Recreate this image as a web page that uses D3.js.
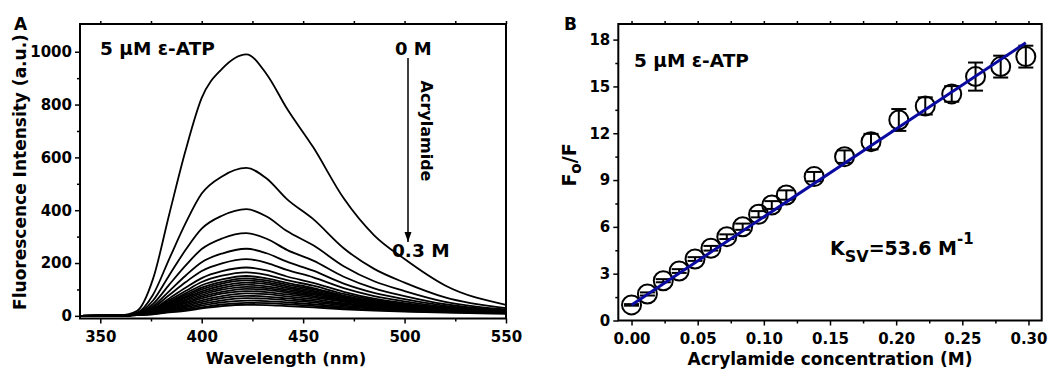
<!DOCTYPE html>
<html>
<head>
<meta charset="utf-8">
<script src="https://cdn.jsdelivr.net/npm/d3@7"></script>
<style>
  body { margin: 0; background: #fff; }
  svg text { font-family: 'Comic Sans MS', 'DejaVu Sans', sans-serif; font-weight: bold; fill: #000; }
  .tick line { stroke: #000; stroke-width: 1.5; }
</style>
</head>
<body>
<svg id="chart" width="1051" height="372"></svg>
<script>
// ---- panel A : emission spectra, one row per acrylamide addition ----
var wavelengths = [340, 360, 368, 376, 384, 392, 400, 410, 422, 432, 442, 455, 470, 485, 500, 520, 550];
var spectra = [
  [0, 2, 18, 140, 385, 625, 825, 935, 990, 915, 785, 638, 445, 305, 215, 115, 42],
  [0, 1, 11, 80, 216, 350, 463, 528, 560, 520, 442, 366, 256, 178, 126, 70, 29],
  [0, 1, 9, 58, 154, 249, 330, 379, 404, 376, 321, 267, 188, 131, 94, 53, 24],
  [0, 1, 8, 45, 118, 190, 253, 293, 313, 292, 250, 209, 148, 104, 75, 44, 21],
  [0, 1, 7, 36, 94, 152, 203, 236, 254, 237, 205, 171, 122, 87, 63, 38, 19],
  [0, 1, 6, 31, 79, 127, 170, 199, 215, 201, 174, 146, 105, 75, 55, 34, 18],
  [0, 1, 6, 26, 66, 106, 143, 169, 183, 172, 149, 125, 91, 65, 48, 30, 16],
  [0, 1, 5, 24, 59, 94, 128, 152, 165, 155, 135, 114, 83, 60, 45, 29, 16],
  [0, 1, 5, 22, 53, 85, 116, 138, 151, 142, 125, 105, 77, 56, 42, 27, 16],
  [0, 1, 5, 21, 50, 79, 107, 129, 142, 134, 118, 100, 73, 54, 41, 27, 16],
  [0, 1, 5, 20, 46, 73, 100, 122, 134, 127, 112, 95, 70, 52, 39, 27, 16],
  [0, 1, 5, 18, 43, 68, 93, 114, 126, 120, 106, 90, 67, 50, 38, 26, 16],
  [0, 1, 5, 17, 40, 62, 86, 106, 118, 112, 100, 85, 64, 48, 36, 25, 16],
  [0, 1, 5, 16, 36, 57, 79, 99, 110, 105, 94, 80, 60, 46, 35, 24, 16],
  [0, 1, 5, 15, 33, 52, 73, 91, 102, 98, 88, 75, 57, 43, 33, 24, 16],
  [0, 1, 5, 14, 30, 47, 66, 84, 94, 90, 81, 70, 53, 40, 31, 22, 15],
  [0, 1, 4, 13, 27, 42, 59, 75, 85, 82, 74, 63, 48, 37, 29, 21, 14],
  [0, 1, 4, 11, 24, 37, 52, 67, 76, 73, 66, 57, 44, 34, 26, 19, 13],
  [0, 1, 4, 10, 21, 32, 45, 59, 67, 65, 59, 51, 39, 30, 24, 18, 12],
  [0, 1, 3, 9, 18, 27, 39, 51, 58, 56, 51, 44, 34, 27, 21, 16, 11],
  [0, 0, 3, 7, 15, 23, 32, 43, 49, 48, 44, 38, 29, 23, 18, 14, 10],
  [0, 0, 3, 6, 13, 19, 28, 37, 42, 41, 37, 32, 25, 20, 16, 12, 8]
];
var xTicksA = [350, 400, 450, 500, 550];
var xMinorA = [375, 425, 475, 525];
var yTicksA = [0, 200, 400, 600, 800, 1000];
var yMinorA = [100, 300, 500, 700, 900];

// ---- panel B : Stern-Volmer plot ----
var acrylConc = [0, 0.012, 0.024, 0.036, 0.048, 0.06, 0.072, 0.084, 0.096, 0.106, 0.117,
                 0.138, 0.161, 0.181, 0.202, 0.222, 0.242, 0.26, 0.279, 0.298];
var f0f = [1.0, 1.7, 2.55, 3.17, 3.94, 4.63, 5.37, 6.01, 6.81, 7.4, 8.04,
           9.22, 10.5, 11.46, 12.85, 13.75, 14.52, 15.63, 16.27, 16.91];
var f0fErr = [0.05, 0.1, 0.1, 0.12, 0.12, 0.15, 0.15, 0.2, 0.2, 0.25, 0.3,
              0.3, 0.4, 0.5, 0.7, 0.55, 0.5, 0.9, 0.7, 0.7];
var fitConc = [0, 0.298];
var fitF0F = [1.0, 17.8];
var xTicksB = [0, 0.05, 0.10, 0.15, 0.20, 0.25, 0.30];
var xMinorB = [0.025, 0.075, 0.125, 0.175, 0.225, 0.275];
var yTicksB = [0, 3, 6, 9, 12, 15, 18];
var yMinorB = [1.5, 4.5, 7.5, 10.5, 13.5, 16.5];

var svg = d3.select("#chart");

function frame(x, y) {
  svg.append("rect")
    .attr("x", x.range()[0]).attr("y", y.range()[1])
    .attr("width", x.range()[1] - x.range()[0])
    .attr("height", y.range()[0] - y.range()[1])
    .attr("fill", "none").attr("stroke", "#000").attr("stroke-width", 2);
}

function axes(x, y, xt, xm, yt, ym, xfmt) {
  var bottom = y.range()[0], left = x.range()[0], top = y.range()[1];
  var gx = svg.append("g").attr("transform", "translate(0," + bottom + ")")
    .call(d3.axisBottom(x).tickValues(xt).tickSize(5).tickPadding(8).tickFormat(xfmt));
  svg.append("g").attr("transform", "translate(0," + bottom + ")")
    .call(d3.axisBottom(x).tickValues(xm).tickSize(3).tickFormat(""));
  svg.append("g").attr("transform", "translate(0," + top + ")")
    .call(d3.axisTop(x).tickValues(xt.concat(xm)).tickSize(3).tickFormat(""));
  var gy = svg.append("g").attr("transform", "translate(" + left + ",0)")
    .call(d3.axisLeft(y).tickValues(yt).tickSize(5).tickPadding(3).tickFormat(d3.format("d")));
  svg.append("g").attr("transform", "translate(" + left + ",0)")
    .call(d3.axisLeft(y).tickValues(ym).tickSize(3).tickFormat(""));
  svg.selectAll(".domain").remove();
  gx.selectAll("text").style("font-size", "15px");
  gy.selectAll("text").style("font-size", "15px");
}

// ===== panel A =====
var xA = d3.scaleLinear().domain([340, 550]).range([80, 506]);
var yA = d3.scaleLinear().domain([-10, 1105]).range([318.5, 24]);

var line = d3.line()
  .x(function(d, i) { return xA(wavelengths[i]); })
  .y(function(d) { return yA(d); })
  .curve(d3.curveMonotoneX);

svg.append("g").selectAll("path")
  .data(spectra)
  .enter().append("path")
  .attr("d", line)
  .attr("fill", "none")
  .attr("stroke", "#000")
  .attr("stroke-width", 1.8);

frame(xA, yA);
axes(xA, yA, xTicksA, xMinorA, yTicksA, yMinorA, d3.format("d"));

svg.append("text").attr("x", 14).attr("y", 30).style("font-size", "17px").text("A");
svg.append("text").attr("x", 100).attr("y", 55).style("font-size", "18.5px").text("5 \u03bcM \u03b5-ATP");
svg.append("text").attr("x", 395).attr("y", 55).style("font-size", "18px").text("0 M");
svg.append("text").attr("x", 392).attr("y", 257).style("font-size", "18.5px").text("0.3 M");

// acrylamide arrow
svg.append("defs").append("marker")
  .attr("id", "arr").attr("viewBox", "0 0 10 10").attr("refX", 10).attr("refY", 5)
  .attr("markerWidth", 7).attr("markerHeight", 7).attr("orient", "auto")
  .append("path").attr("d", "M0,1.5 L10,5 L0,8.5 Z").attr("fill", "#000");
svg.append("line")
  .attr("x1", 408).attr("x2", 408).attr("y1", 58).attr("y2", 242)
  .attr("stroke", "#000").attr("stroke-width", 1.5)
  .attr("marker-end", "url(#arr)");
svg.append("text")
  .attr("transform", "translate(421,131) rotate(90)")
  .attr("text-anchor", "middle")
  .style("font-size", "16px")
  .text("Acrylamide");

svg.append("text")
  .attr("transform", "translate(25.5,172) rotate(-90)")
  .attr("text-anchor", "middle")
  .style("font-size", "17px")
  .text("Fluorescence Intensity (a.u.)");
svg.append("text")
  .attr("x", 286).attr("y", 364)
  .attr("text-anchor", "middle")
  .style("font-size", "16.5px")
  .text("Wavelength (nm)");

// ===== panel B =====
var xB = d3.scaleLinear().domain([-0.01, 0.31]).range([618.3, 1041.7]);
var yB = d3.scaleLinear().domain([0, 19]).range([320.5, 24]);

var pts = acrylConc.map(function(c, i) { return { c: c, f: f0f[i], e: f0fErr[i] }; });

var pg = svg.append("g");
pg.selectAll("circle").data(pts).enter().append("circle")
  .attr("cx", function(d) { return xB(d.c); })
  .attr("cy", function(d) { return yB(d.f); })
  .attr("r", 9.5)
  .attr("fill", "none").attr("stroke", "#000").attr("stroke-width", 2);

var eb = pg.selectAll("g.err").data(pts).enter().append("g").attr("class", "err")
  .attr("stroke", "#000").attr("stroke-width", 2);
eb.append("line")
  .attr("x1", function(d) { return xB(d.c); }).attr("x2", function(d) { return xB(d.c); })
  .attr("y1", function(d) { return yB(d.f - d.e); }).attr("y2", function(d) { return yB(d.f + d.e); });
eb.append("line")
  .attr("x1", function(d) { return xB(d.c) - 7.5; }).attr("x2", function(d) { return xB(d.c) + 7.5; })
  .attr("y1", function(d) { return yB(d.f - d.e); }).attr("y2", function(d) { return yB(d.f - d.e); });
eb.append("line")
  .attr("x1", function(d) { return xB(d.c) - 7.5; }).attr("x2", function(d) { return xB(d.c) + 7.5; })
  .attr("y1", function(d) { return yB(d.f + d.e); }).attr("y2", function(d) { return yB(d.f + d.e); });

svg.append("line")
  .attr("x1", xB(fitConc[0])).attr("y1", yB(fitF0F[0]))
  .attr("x2", xB(fitConc[1])).attr("y2", yB(fitF0F[1]))
  .attr("stroke", "#0a0aa0").attr("stroke-width", 3);

frame(xB, yB);
axes(xB, yB, xTicksB, xMinorB, yTicksB, yMinorB, d3.format(".2f"));

svg.append("text").attr("x", 564).attr("y", 30).style("font-size", "17px").text("B");
svg.append("text").attr("x", 634).attr("y", 67).style("font-size", "18.5px").text("5 \u03bcM \u03b5-ATP");

var ksv = svg.append("text").attr("x", 830).attr("y", 255).style("font-size", "19px");
ksv.append("tspan").text("K");
ksv.append("tspan").attr("dy", 7).style("font-size", "16px").text("SV");
ksv.append("tspan").attr("dy", -7).text("=53.6 M");
ksv.append("tspan").attr("dy", -11).style("font-size", "15px").text("-1");

var yt = svg.append("text")
  .attr("transform", "translate(576,165) rotate(-90)")
  .attr("text-anchor", "middle")
  .style("font-size", "19px");
yt.append("tspan").text("F");
yt.append("tspan").attr("dy", 5).style("font-size", "15px").text("o");
yt.append("tspan").attr("dy", -5).text("/F");

svg.append("text")
  .attr("x", 830).attr("y", 365)
  .attr("text-anchor", "middle")
  .style("font-size", "17px")
  .text("Acrylamide concentration (M)");
</script>
</body>
</html>
